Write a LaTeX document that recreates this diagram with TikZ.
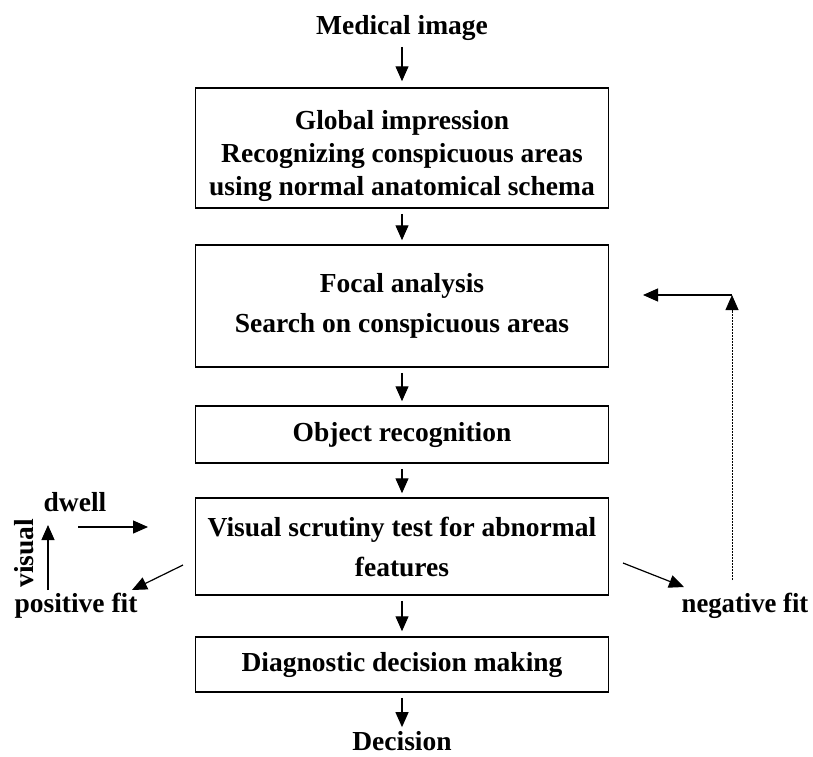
\documentclass[tikz,border=0pt]{standalone}
\usepackage{fontspec}
\setmainfont{Liberation Serif}
\usetikzlibrary{arrows.meta}
\begin{document}
\begin{tikzpicture}[x=1pt,y=-1pt,
  every node/.style={font=\fontsize{27.5}{34}\selectfont\bfseries, text=black},
  box/.style={draw, line width=1.5pt, minimum width=413pt, align=center, inner sep=0pt},
  arr/.style={line width=1.2pt, -{Triangle[width=13pt,length=15pt]}},
  lbl/.style={inner sep=0pt}]
\useasboundingbox (0,0) rectangle (813,756);
\node[lbl] (med) at (402,28) {Medical image};
\node[box, minimum height=120pt] (g) at (402,148) {\rule{0pt}{35pt}Global impression\\[-1pt]Recognizing conspicuous areas\\[-1pt]using normal anatomical schema};
\node[box, minimum height=122pt] (f) at (402,306) {Focal analysis\\[6pt]Search on conspicuous areas};
\node[box, minimum height=57pt] (o) at (402,434.5) {Object recognition};
\node[box, minimum height=97pt] (v) at (402,546.5) {Visual scrutiny test for abnormal\\[6pt]features};
\node[box, minimum height=55pt] (d) at (402,664.5) {Diagnostic decision making};
\node[lbl] (dec) at (402,741) {Decision};
\draw[arr, shorten <=6pt, shorten >=6pt] (med) -- (g);
\draw[arr, shorten <=5pt, shorten >=4pt] (g) -- (f);
\draw[arr, shorten <=5pt, shorten >=4pt] (f) -- (o);
\draw[arr, shorten <=5pt, shorten >=4pt] (o) -- (v);
\draw[arr, shorten <=5pt, shorten >=5pt] (v) -- (d);
\draw[arr, shorten <=5pt, shorten >=4pt] (d) -- (dec);
% left loop
\node[lbl] (dw) at (75,502) {dwell};
\node[lbl, rotate=90] (vis) at (24,553) {visual};
\node[lbl] (pf) at (76,606) {positive fit};
\coordinate (dwa) at (78,527);
\coordinate (dwb) at (148,527);
\draw[arr] (dwa) -- (dwb);
\coordinate (va) at (48,590);
\coordinate (vb) at (48,525);
\draw[arr] (va) -- (vb);
\coordinate (pa) at (183,565);
\coordinate (pb) at (132,590);
\draw[arr] (pa) -- (pb);
% right loop
\node[lbl, xscale=0.97] (nf) at (745,606) {negative fit};
\coordinate (na) at (623,563);
\coordinate (nb) at (684,587);
\draw[arr] (na) -- (nb);
\coordinate (ua) at (732,580);
\coordinate (ub) at (732,295);
\coordinate (uc) at (643,295);
\draw[line width=0.8pt, dash pattern=on 2pt off 1pt, -{Triangle[width=13pt,length=15pt]}] (ua) -- (ub);
\draw[arr] (ub) -- (uc);
\end{tikzpicture}
\end{document}
